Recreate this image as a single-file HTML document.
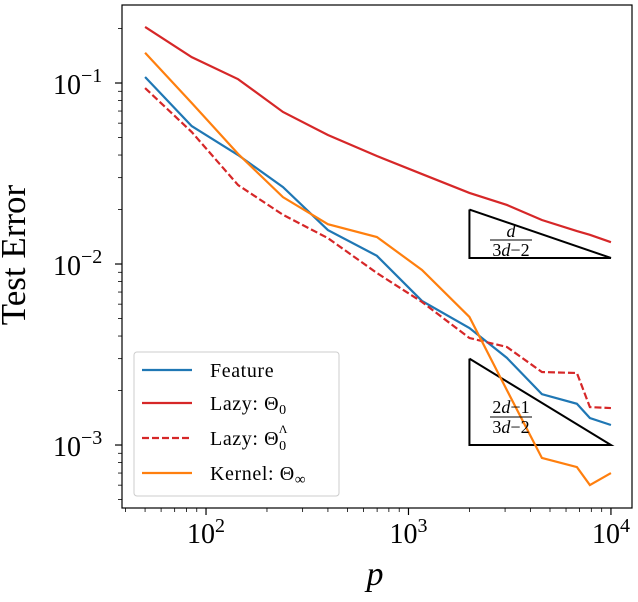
<!DOCTYPE html>
<html><head><meta charset="utf-8"><style>
body{margin:0;background:#fff;}
svg{display:block;font-family:"Liberation Serif",serif;}
</style></head><body>
<svg id="chart" width="638" height="602" viewBox="0 0 638 602">
<rect width="638" height="602" fill="#fff"/>
<g id="plot"></g>
<g id="axes"></g>
<text x="25" y="255" font-size="35" text-anchor="middle" transform="rotate(-90 25 255)">Test Error</text>
<text x="375" y="585" font-size="34" font-style="italic" text-anchor="middle">p</text>
<g>
<rect x="134" y="352" width="205" height="144" rx="3" fill="#fff" fill-opacity="0.8" stroke="#ccc"/>
<line x1="142" y1="370" x2="192" y2="370" stroke="#1f77b4" stroke-width="2.2"/>
<text x="210" y="377" font-size="20" letter-spacing="0.6">Feature</text>
<line x1="142" y1="403" x2="192" y2="403" stroke="#d62728" stroke-width="2.2"/>
<text x="210" y="410" font-size="20" letter-spacing="0.6">Lazy:  Θ<tspan font-size="14" dy="4">0</tspan></text>
<line x1="142" y1="438" x2="192" y2="438" stroke="#d62728" stroke-width="2.2" stroke-dasharray="7,3"/>
<text x="210" y="445" font-size="20" letter-spacing="0.6">Lazy:  Θ<tspan font-size="14" dy="5">0</tspan><tspan font-size="12" dx="-8" dy="-17">Λ</tspan></text>
<line x1="142" y1="473" x2="192" y2="473" stroke="#ff7f0e" stroke-width="2.2"/>
<text x="210" y="480" font-size="20" letter-spacing="0.6">Kernel:  Θ<tspan font-size="15" dy="4">∞</tspan></text>
</g>
<g>
<text x="511" y="237" font-size="18" font-style="italic" text-anchor="middle">d</text>
<line x1="490" y1="240" x2="532" y2="240" stroke="#000" stroke-width="1"/>
<text x="511" y="256" font-size="18" text-anchor="middle">3<tspan font-style="italic">d</tspan>−2</text>
</g>
<g>
<text x="511" y="413" font-size="18" text-anchor="middle">2<tspan font-style="italic">d</tspan>−1</text>
<line x1="490" y1="417" x2="532" y2="417" stroke="#000" stroke-width="1"/>
<text x="511" y="433" font-size="18" text-anchor="middle">3<tspan font-style="italic">d</tspan>−2</text>
</g>
</svg>
<script>
const pVals = [50, 85, 144, 240, 400, 698, 1166, 2000, 3062, 4560, 6790, 7870, 10000];
const featureErr = [0.108, 0.0578, 0.040, 0.0266, 0.0154, 0.0111, 0.00625, 0.00443, 0.00303, 0.00191, 0.00169, 0.00141, 0.00129];
const lazyErr = [0.204, 0.139, 0.105, 0.0692, 0.0516, 0.0395, 0.0314, 0.0247, 0.0212, 0.0175, 0.0152, 0.0145, 0.0132];
const lazyLambdaErr = [0.0938, 0.0536, 0.0273, 0.0187, 0.0139, 0.00892, 0.00617, 0.0039, 0.00348, 0.00253, 0.0025, 0.00162, 0.0016];
const kernelErr = [0.147, 0.0776, 0.0406, 0.0234, 0.0166, 0.0141, 0.00927, 0.0051, 0.00201, 0.000848, 0.000755, 0.000601, 0.0007];
const triUpperX = [2000, 10000];
const triUpperY = [0.02, 0.0108];
const triLowerX = [2000, 10000];
const triLowerY = [0.003, 0.001];
const xTickExp = [2, 3, 4];
const yTickExp = [-1, -2, -3];

const L=122,R=632,T=5,B=508;
const xMin=1.585,xMax=4.104,yMin=-3.348,yMax=-0.569;
const sx=v=>L+(Math.log10(v)-xMin)/(xMax-xMin)*(R-L);
const sy=v=>B-(Math.log10(v)-yMin)/(yMax-yMin)*(B-T);
const NS="http://www.w3.org/2000/svg";
const plot=document.getElementById('plot'), axes=document.getElementById('axes');
function mk(tag,attrs,parent){const e=document.createElementNS(NS,tag);for(const k in attrs)e.setAttribute(k,attrs[k]);parent.appendChild(e);return e;}

let t1=mk('polyline',{points:`${sx(triUpperX[0])},${sy(triUpperY[0])} ${sx(triUpperX[1])},${sy(triUpperY[1])} ${sx(triUpperX[0])},${sy(triUpperY[1])} ${sx(triUpperX[0])},${sy(triUpperY[0])}`,fill:'none',stroke:'#000','stroke-width':2},plot);


let t2=mk('polyline',{points:`${sx(triLowerX[0])},${sy(triLowerY[0])} ${sx(triLowerX[1])},${sy(triLowerY[1])} ${sx(triLowerX[0])},${sy(triLowerY[1])} ${sx(triLowerX[0])},${sy(triLowerY[0])}`,fill:'none',stroke:'#000','stroke-width':2},plot);



function series(vals,color,dash,name){
  const pts=pVals.map((p,i)=>sx(p)+','+sy(vals[i])).join(' ');
  const a={points:pts,fill:'none',stroke:color,'stroke-width':2.2};
  if(dash)a['stroke-dasharray']=dash;
  const e=mk('polyline',a,plot);
  
  
}
series(featureErr,'#1f77b4',null,'series-feature');
series(lazyErr,'#d62728',null,'series-lazy');
series(lazyLambdaErr,'#d62728','7,3','series-lazy-lambda');
series(kernelErr,'#ff7f0e',null,'series-kernel');

const fr=mk('rect',{x:L,y:T,width:R-L,height:B-T,fill:'none',stroke:'#000','stroke-width':1.2},axes);



for(let d=1;d<=4;d++){for(let m=1;m<10;m++){const v=m*Math.pow(10,d);const x=sx(v);if(x<L||x>R)continue;
  const len=m===1?7:4;
  const tk=mk('line',{x1:x,y1:B,x2:x,y2:B+len,stroke:'#000','stroke-width':m===1?1.2:0.8},axes);
  
  
}}
xTickExp.forEach(e=>{const x=sx(Math.pow(10,e));
  const t=mk('text',{x:x,y:543,'font-size':28,'text-anchor':'middle'},axes);
  t.innerHTML='10<tspan font-size="20" dy="-11">'+e+'</tspan>';
  
  
});
for(let d=-4;d<=-1;d++){for(let m=1;m<10;m++){const v=m*Math.pow(10,d);const y=sy(v);if(y<T||y>B)continue;
  const len=m===1?7:4;
  const tk=mk('line',{x1:L,y1:y,x2:L-len,y2:y,stroke:'#000','stroke-width':m===1?1.2:0.8},axes);
  
  
}}
yTickExp.forEach(e=>{const y=sy(Math.pow(10,e));
  const t=mk('text',{x:53,y:y+11,'font-size':28},axes);
  t.innerHTML='10<tspan font-size="20" dy="-12">−'+Math.abs(e)+'</tspan>';
  
  
});
</script>
</body></html>
